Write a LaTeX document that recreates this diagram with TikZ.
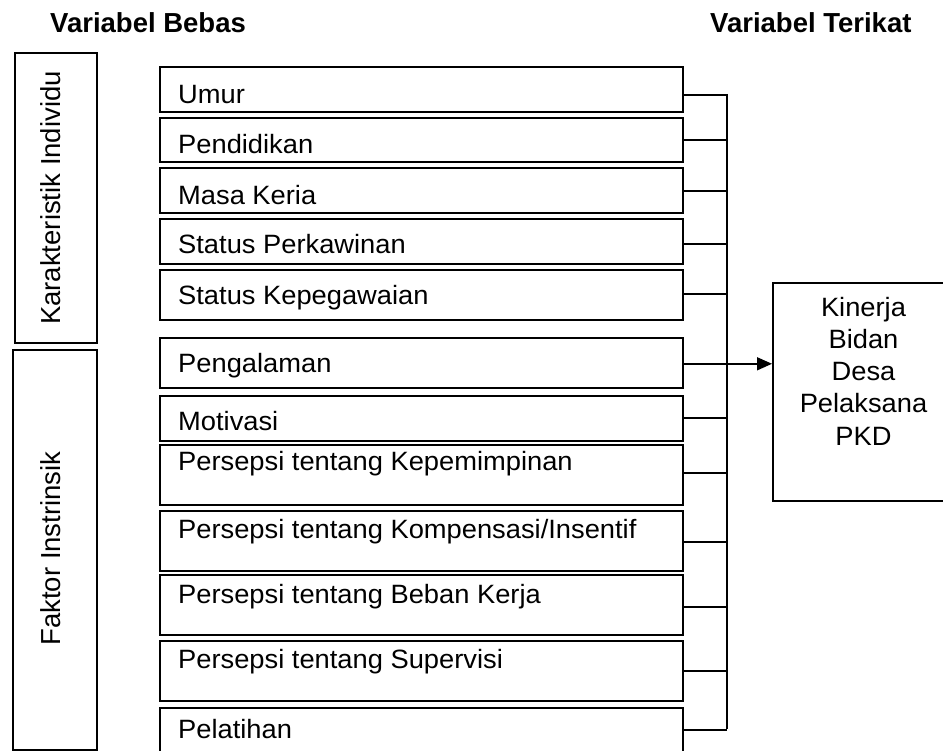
\documentclass[tikz,border=0pt]{standalone}
\usepackage{fontspec}
\setmainfont{Liberation Sans}
\newfontfamily\boxfont{Liberation Sans}[FakeStretch=1.03]
\usetikzlibrary{arrows.meta,calc}
\tikzset{
  box/.style={draw, line width=1.6pt, rectangle, inner sep=0pt, anchor=north west, minimum width=523pt},
  sidebox/.style={draw, line width=1.6pt, rectangle, inner sep=0pt, anchor=north west},
  lbl/.style={anchor=base west, inner sep=0pt, font=\boxfont\fontsize{26.5}{30}\selectfont},
  klbl/.style={anchor=base, inner sep=0pt, font=\boxfont\fontsize{26.5}{30}\selectfont},
  rot/.style={rotate=90, anchor=base, inner sep=0pt, font=\fontsize{27.5}{32}\selectfont},
  head/.style={anchor=base west, inner sep=0pt, font=\bfseries\fontsize{27.5}{32}\selectfont},
  conn/.style={line width=1.6pt}
}
\begin{document}
\begin{tikzpicture}[x=1pt,y=-1pt]
\useasboundingbox (0,0) rectangle (943,751);
% headers
\node[head] (hb) at (50,33) {Variabel Bebas};
\node[head] (ht) at (710,33) {Variabel Terikat};
% side boxes
\node[sidebox, minimum width=82pt, minimum height=290pt] (sk) at (14,52) {};
\node[rot] (tsk) at (60,198) {Karakteristik Individu};
\node[sidebox, minimum width=84pt, minimum height=400pt] (sf) at (12,349) {};
\node[rot] (tsf) at (60,548.5) {Faktor Instrinsik};
% variable boxes
\node[box, minimum height=45pt] (b1) at (159,66) {};
\node[box, minimum height=44pt] (b2) at (159,117) {};
\node[box, minimum height=45pt] (b3) at (159,167) {};
\node[box, minimum height=45pt] (b4) at (159,218) {};
\node[box, minimum height=50pt] (b5) at (159,269) {};
\node[box, minimum height=50pt] (b6) at (159,337) {};
\node[box, minimum height=45pt] (b7) at (159,395) {};
\node[box, minimum height=60pt] (b8) at (159,444) {};
\node[box, minimum height=60pt] (b9) at (159,510) {};
\node[box, minimum height=60pt] (b10) at (159,574) {};
\node[box, minimum height=60pt] (b11) at (159,640) {};
\node[box, minimum height=45pt] (b12) at (159,707) {};
% texts
\node[lbl] (t1) at (178,103.5) {Umur};
\node[lbl] (t2) at (178,153.5) {Pendidikan};
\node[lbl] (t3) at (178,205) {Masa Keria};
\node[lbl] (t4) at (178,254) {Status Perkawinan};
\node[lbl] (t5) at (178,305) {Status Kepegawaian};
\node[lbl] (t6) at (178,373) {Pengalaman};
\node[lbl] (t7) at (178,430) {Motivasi};
\node[lbl] (t8) at (178,470) {Persepsi tentang Kepemimpinan};
\node[lbl] (t9) at (178,538.5) {Persepsi tentang Kompensasi/Insentif};
\node[lbl] (t10) at (178,603) {Persepsi tentang Beban Kerja};
\node[lbl] (t11) at (178,668.5) {Persepsi tentang Supervisi};
\node[lbl] (t12) at (178,738.5) {Pelatihan};
% dependent box
\node[sidebox, minimum width=183pt, minimum height=218pt] (k) at (772,282) {};
\node[klbl] (k1) at (863.5,317) {Kinerja};
\node[klbl] (k2) at (863.5,349) {Bidan};
\node[klbl] (k3) at (863.5,381) {Desa};
\node[klbl] (k4) at (863.5,413) {Pelaksana};
\node[klbl] (k5) at (863.5,446) {PKD};
% bus
\coordinate (bustop) at (727,94);
\coordinate (busbot) at (727,729);
\draw[conn] (bustop) -- (busbot);
\draw[conn] ($(b1.east)+(0,5.5)$) -- ($(b1.east -| bustop)+(0,5.5)$);
\draw[conn] ($(b2.east)+(0,0)$) -- ($(b2.east -| bustop)+(0,0)$);
\draw[conn] ($(b3.east)+(0,0.5)$) -- ($(b3.east -| bustop)+(0,0.5)$);
\draw[conn] ($(b4.east)+(0,2.5)$) -- ($(b4.east -| bustop)+(0,2.5)$);
\draw[conn] ($(b5.east)+(0,-1)$) -- ($(b5.east -| bustop)+(0,-1)$);
\draw[conn] ($(b7.east)+(0,-0.5)$) -- ($(b7.east -| bustop)+(0,-0.5)$);
\draw[conn] ($(b8.east)+(0,-2)$) -- ($(b8.east -| bustop)+(0,-2)$);
\draw[conn] ($(b9.east)+(0,1)$) -- ($(b9.east -| bustop)+(0,1)$);
\draw[conn] ($(b10.east)+(0,2)$) -- ($(b10.east -| bustop)+(0,2)$);
\draw[conn] ($(b11.east)+(0,0)$) -- ($(b11.east -| bustop)+(0,0)$);
\draw[conn] ($(b12.east)+(0,-0.5)$) -- ($(b12.east -| bustop)+(0,-0.5)$);
\draw[conn, -{Triangle[length=15pt,width=13pt]}] ($(b6.east)+(0,1)$) -- ($(k.west |- b6.east)+(0,1)$);
\end{tikzpicture}
\end{document}
